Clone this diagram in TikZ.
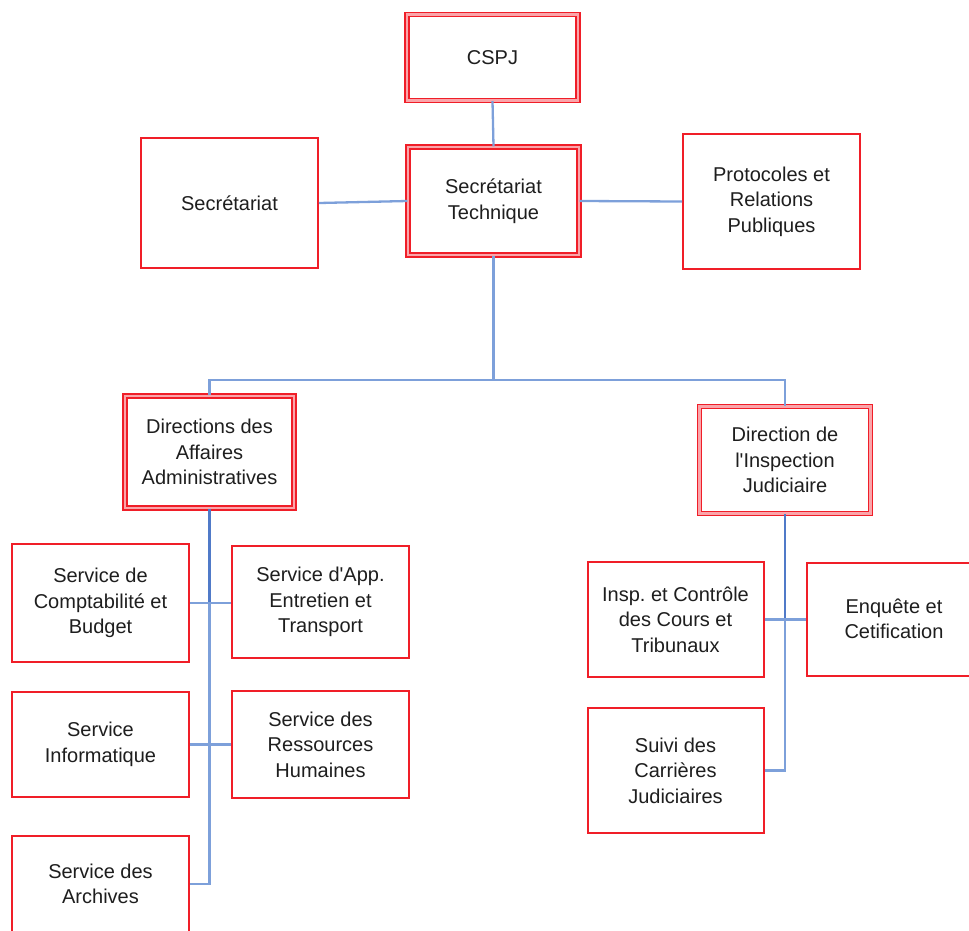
\documentclass[tikz,border=0pt]{standalone}
\usepackage{fontspec}
\setmainfont{Liberation Sans}
\frenchspacing
\definecolor{boxred}{RGB}{240,30,40}
\definecolor{boxpink}{RGB}{250,165,170}
\definecolor{linkblue}{RGB}{125,160,218}
\definecolor{trunkblue}{RGB}{80,122,200}
\definecolor{txt}{RGB}{30,30,30}
\begin{document}
\begin{tikzpicture}[x=1pt,y=-1pt,
  box/.style={draw=boxred, line width=2pt, rectangle, inner sep=0pt, align=center,
    font=\fontsize{20}{25.5}\selectfont, text=txt, fill=white},
  dbox/.style={box, line width=1.4pt, double=boxpink, double distance=2.6pt},
  conn/.style={draw=linkblue, line width=2.3pt},
  trunk/.style={draw=trunkblue, line width=2.6pt}]
\useasboundingbox (0,0) rectangle (969,930);
\clip (0,0) rectangle (969,930);

% nodes
\node[dbox, minimum width=171pt, minimum height=86pt] (cspj) at (492.5,57.5) {CSPJ};
\node[dbox, minimum width=171pt, minimum height=108pt] (sectech) at (493.5,201) {Secrétariat\\Technique};
\node[box, minimum width=177pt, minimum height=130pt] (secr) at (229.5,203) {Secrétariat};
\node[box, minimum width=177pt, minimum height=135pt] (proto) at (771.5,201.5) {Protocoles et\\Relations\\Publiques};

\node[dbox, minimum width=169pt, minimum height=112pt] (dirA) at (209.5,452) {Directions des\\Affaires\\Administratives};
\node[dbox, minimum width=171pt, minimum height=107pt] (dirI) at (785,460) {Direction de\\l\textquotesingle Inspection\\Judiciaire};

\node[box, minimum width=177pt, minimum height=118pt] (compta) at (100.5,603) {Service de\\Comptabilité et\\Budget};
\node[box, minimum width=177pt, minimum height=112pt] (entretien) at (320.5,602) {Service d\textquotesingle App.\\Entretien et\\Transport};
\node[box, minimum width=177pt, minimum height=105pt] (info) at (100.5,744.5) {Service\\Informatique};
\node[box, minimum width=177pt, minimum height=107pt] (rh) at (320.5,744.5) {Service des\\Ressources\\Humaines};
\node[box, minimum width=177pt, minimum height=96pt] (archives) at (100.5,884) {Service des\\Archives};

\node[box, minimum width=176pt, minimum height=115pt] (insp) at (675.5,619.5) {Insp.\ et Contrôle\\des Cours et\\Tribunaux};
\node[box, minimum width=174pt, minimum height=113pt] (enquete) at (894,619) {Enquête et\\Cetification};
\node[box, minimum width=176pt, minimum height=125pt] (suivi) at (675.5,770.5) {Suivi des\\Carrières\\Judiciaires};

% connectors
\coordinate (bus) at (0,380);
\draw[conn] (cspj.south) -- (sectech.north);
\draw[conn] (secr.east) -- (sectech.west);
\draw[conn] (sectech.east) -- (proto.west);
\draw[conn] (sectech.south) -- (sectech.south |- bus);
\draw[conn] (dirA.north) -- (dirA.north |- bus) -- (dirI.north |- bus) -- (dirI.north);

\draw[conn] (dirA.south) |- (archives.east);
\draw[trunk] (dirA.south) -- (dirA.south |- compta.east);
\draw[conn] (compta.east) -- (compta.east -| entretien.west);
\draw[conn] (info.east) -- (rh.west);

\draw[conn] (dirI.south) |- (suivi.east);
\draw[trunk] (dirI.south) -- (dirI.south |- insp.east);
\draw[conn] (insp.east) -- (insp.east -| enquete.west);
\end{tikzpicture}
\end{document}
